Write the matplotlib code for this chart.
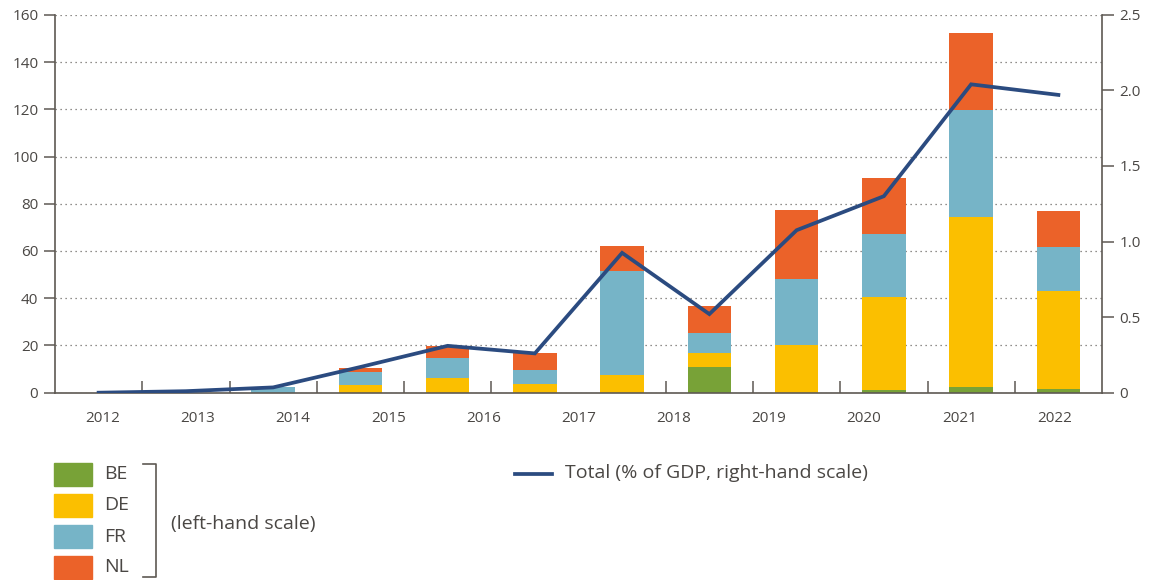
import matplotlib.pyplot as plt
import matplotlib.patches as mpatches
from matplotlib.lines import Line2D
import numpy as np

plt.rcParams['font.family'] = ['Open Sans', 'DejaVu Sans']

# 12 bar slots, 11 year labels spread evenly under them (as in the source)
year_labels = ["2012", "2013", "2014", "2015", "2016", "2017",
               "2018", "2019", "2020", "2021", "2022"]
be = [0, 0, 0, 0, 0, 0, 0, 10.9, 0, 1.2, 2.4, 1.6]
de = [0, 0, 0, 3.1, 6.2, 3.7, 7.5, 5.9, 20.3, 39.3, 72.0, 41.5]
fr = [0, 0, 2.3, 5.7, 8.5, 5.9, 44.0, 8.5, 27.8, 26.7, 45.4, 18.6]
nl = [0, 0, 0, 1.7, 5.2, 7.3, 10.6, 11.3, 29.2, 23.7, 32.5, 15.2]
total_gdp = [0, 0.01, 0.035, 0.17, 0.31, 0.26, 0.925, 0.52, 1.075, 1.30, 2.04, 1.97]

colors = {"BE": "#78a237", "DE": "#fbbf00", "FR": "#76b4c7", "NL": "#eb6229"}
line_color = "#2b4b80"
axis_color = "#5e5953"
text_color = "#4a4744"

fig = plt.figure(figsize=(11.53, 5.8), dpi=100)
ax = fig.add_axes([55 / 1153, 1 - 392.7 / 580, 1047 / 1153, 377.9 / 580])

x = np.arange(len(be))
bottom = np.zeros(len(be))
for name, vals in [("BE", be), ("DE", de), ("FR", fr), ("NL", nl)]:
    ax.bar(x, vals, width=0.5, bottom=bottom, color=colors[name], zorder=2)
    bottom += np.array(vals)

ax.set_xlim(-0.5, len(be) - 0.5)
ax.set_ylim(0, 160)
ax.set_yticks(np.arange(0, 161, 20))
ax.yaxis.grid(True, linestyle=(0, (1, 3)), color="#6d6a66", linewidth=0.9, zorder=0)
ax.set_axisbelow(True)

# x: tick marks at slot edges (pointing up), labels spread evenly
ax.set_xticks(np.arange(0.5, len(be) - 0.5), minor=True)
label_pos = [-0.5 + (i + 0.5) * len(be) / len(year_labels) for i in range(len(year_labels))]
ax.set_xticks(label_pos)
ax.set_xticklabels(year_labels)
ax.tick_params(axis="x", which="major", length=0, pad=13, labelsize=11, labelcolor=text_color)
ax.tick_params(axis="x", which="minor", direction="in", length=8.5, width=1.1, color=axis_color)
ax.tick_params(axis="y", length=8, width=1.1, color=axis_color, labelsize=11,
               labelcolor=text_color, pad=4)

for side in ["left", "bottom"]:
    ax.spines[side].set_color(axis_color)
    ax.spines[side].set_linewidth(1.2)
ax.spines["top"].set_visible(False)
ax.spines["right"].set_visible(False)

ax2 = ax.twinx()
ax2.plot(x, total_gdp, color=line_color, linewidth=2.7, solid_joinstyle="miter", zorder=5)
ax2.set_ylim(0, 2.5)
ax2.set_yticks(np.arange(0, 2.51, 0.5))
ax2.set_yticklabels(["0", "0.5", "1.0", "1.5", "2.0", "2.5"])
ax2.tick_params(axis="y", length=8.5, width=1.1, color=axis_color, labelsize=11,
                labelcolor=text_color, pad=4)
for side in ["left", "top", "bottom"]:
    ax2.spines[side].set_visible(False)
ax2.spines["right"].set_color(axis_color)
ax2.spines["right"].set_linewidth(1.2)

# legend drawn by hand below the plot
def fx(px):
    return px / 1153

def fy(py):
    return 1 - py / 580

legend_size = 14
box_rows = [("BE", 474), ("DE", 505.5), ("FR", 536.5), ("NL", 567)]
for name, cy in box_rows:
    fig.patches.append(mpatches.Rectangle((fx(54), fy(cy + 11.5)), fx(92) - fx(54), 23 / 580,
                                          transform=fig.transFigure, color=colors[name]))
    fig.text(fx(104), fy(cy), name, fontsize=legend_size, color=text_color, va="center", ha="left")

bracket_x = [fx(143), fx(156), fx(156), fx(143)]
bracket_y = [fy(464), fy(464), fy(577), fy(577)]
fig.add_artist(Line2D(bracket_x, bracket_y, transform=fig.transFigure, color=axis_color, linewidth=1.2))
fig.text(fx(171), fy(524), "(left-hand scale)", fontsize=legend_size, color=text_color,
         va="center", ha="left")

fig.add_artist(Line2D([fx(515), fx(552)], [fy(474), fy(474)], transform=fig.transFigure,
                      color=line_color, linewidth=2.7))
fig.text(fx(565), fy(473), "Total (% of GDP, right-hand scale)", fontsize=legend_size,
         color=text_color, va="center", ha="left")

fig.savefig("out.png", dpi=100)
